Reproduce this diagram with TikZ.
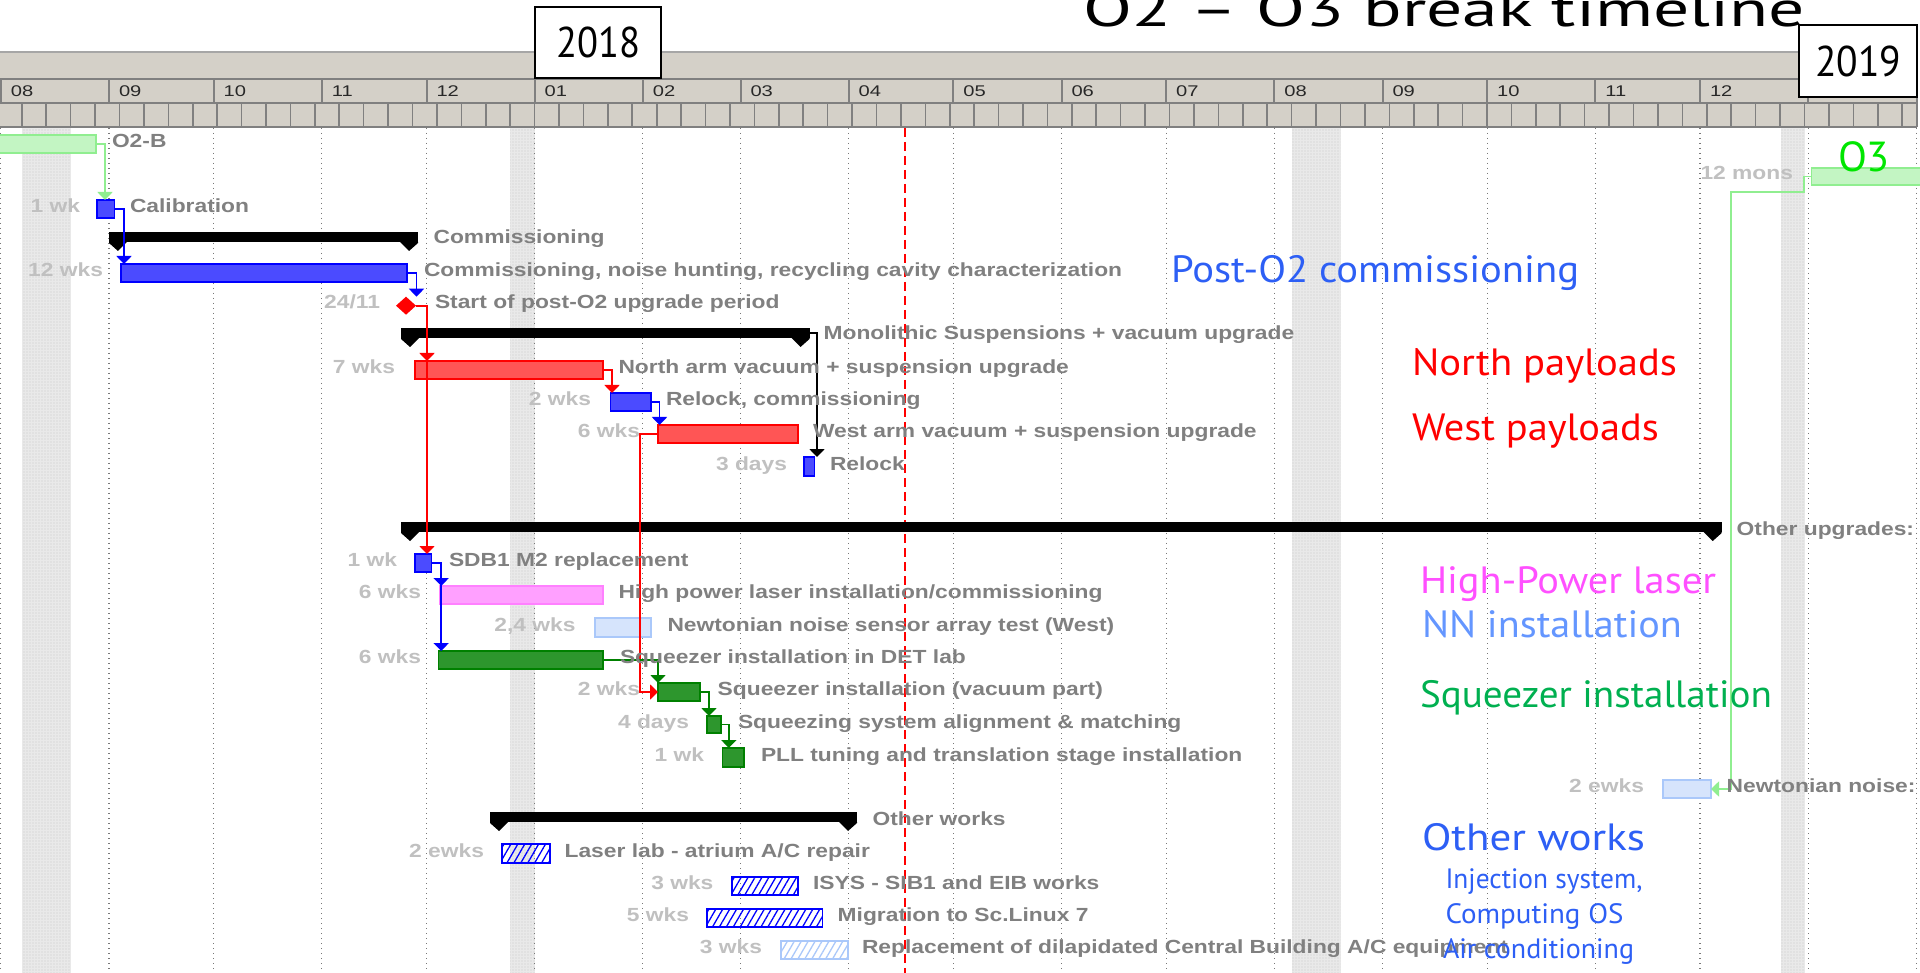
\documentclass[tikz,border=0pt]{standalone}
\usepackage{fontspec}
\usepackage{graphicx}
\usetikzlibrary{arrows.meta,shapes.geometric,patterns.meta,calc}
\newfontfamily\ganttfont{Liberation Sans}
\newfontfamily\gillfont{PT Sans}
\definecolor{hdrfill}{RGB}{212,208,200}
\definecolor{hdrline}{RGB}{128,128,128}
\definecolor{lblgray}{RGB}{128,128,128}
\definecolor{durgray}{RGB}{192,192,192}
\definecolor{gridgray}{RGB}{120,120,120}
\definecolor{stripegray}{RGB}{233,233,233}
\definecolor{stripedot}{RGB}{200,200,200}
\definecolor{mtext}{RGB}{40,40,40}
\definecolor{lgreen}{RGB}{144,238,144}
\definecolor{lgreenfill}{RGB}{195,245,195}
\definecolor{dgreen}{RGB}{0,128,0}
\definecolor{dgreenfill}{RGB}{45,150,45}
\definecolor{bluefill}{RGB}{75,75,255}
\definecolor{redfill}{RGB}{255,85,85}
\definecolor{pinkline}{RGB}{255,128,255}
\definecolor{pinkfill}{RGB}{255,160,255}
\definecolor{nnline}{RGB}{170,200,250}
\definecolor{nnfill}{RGB}{214,228,252}
\definecolor{ovblue}{RGB}{45,95,245}
\definecolor{ovlblue}{RGB}{100,150,255}
\definecolor{ovpink}{RGB}{255,80,255}
\definecolor{ovgreen}{RGB}{0,176,80}
\definecolor{ovothree}{RGB}{0,230,0}
\newcommand\gl[1]{\scalebox{1.2}[1]{#1}}
\newcommand\fitw[2]{\resizebox{#1}{\height}{#2}}
\newcommand\ganttbar[6]{\node[#2, anchor=north west, inner sep=0pt, outer sep=0pt, minimum width={(#4-#3)*1pt}, minimum height={(#6-#5)*1pt}] (#1) at (#3,#5) {};}
\newcommand\summbar[4]{%
  \node[fill=black, anchor=north west, inner sep=0pt, outer sep=0pt, minimum width={(#3-#2)*1pt}, minimum height=10pt] (#1) at (#2,#4) {};
  \fill (#1.south west) -- ++(0,1) -- ++(9,8) -- ++(9,-9) -- cycle;
  \fill (#1.south east) -- ++(0,1) -- ++(-9,8) -- ++(-9,-9) -- cycle;}
\tikzset{
  hline/.style={draw=hdrline, line width=2pt},
  gridline/.style={draw=gridgray, line width=1.2pt, dash pattern=on 1.2pt off 3.8pt},
  stripe/.style={fill=stripegray},
  stripedots/.style={pattern={Dots[radius=0.7pt,distance=3pt]}, pattern color=stripedot},
  lbl/.style={anchor=base west, inner sep=0pt, outer sep=0pt, text=lblgray, font={\ganttfont\fontsize{19}{22}\selectfont\bfseries}},
  dur/.style={lbl, anchor=base east, text=durgray},
  mlbl/.style={anchor=base west, inner sep=0pt, outer sep=0pt, text=mtext, font={\ganttfont\fontsize{15.5}{18}\selectfont}},
  ov/.style={anchor=base west, inner sep=0pt, outer sep=0pt, font={\gillfont\fontsize{38}{42}\selectfont}},
  ovs/.style={ov, font={\gillfont\fontsize{28}{32}\selectfont}},
  bbar/.style={draw=blue, line width=1.5pt, fill=bluefill},
  rbar/.style={draw=red, line width=1.5pt, fill=redfill},
  pbar/.style={draw=pinkline, line width=1.5pt, fill=pinkfill},
  nbar/.style={draw=nnline, line width=1.5pt, fill=nnfill},
  gbar/.style={draw=dgreen, line width=1.5pt, fill=dgreenfill},
  lgbar/.style={draw=lgreen, line width=1.5pt, fill=lgreenfill},
  hbar/.style={draw=blue, line width=1.5pt, pattern={Lines[angle=60,distance=6pt,line width=1.3pt]}, pattern color=blue},
  lhbar/.style={draw=nnline, line width=1.5pt, pattern={Lines[angle=60,distance=6pt,line width=1.3pt]}, pattern color=nnline},
  link/.style={line width=1.8pt, -{Triangle[width=15pt,length=8pt]}},
}
\begin{document}
\begin{tikzpicture}[x=1pt,y=-1pt]
\useasboundingbox (0,0) rectangle (1920,973);
\clip (0,0) rectangle (1920,973);
\fill[white] (0,0) rectangle (1920,973);
% shaded non-working weeks
\foreach \sa/\sb in {21.8/70.6,510.1/534.7,1291.8/1340.6,1780.6/1805}{
  \fill[stripe] (\sa,128) rectangle (\sb,973);
  \fill[stripedots] (\sa,128) rectangle (\sb,973);
}
% month grid lines
\foreach \mx in {0.8,109,213.7,321.8,426.5,534.7,642.8,740.5,848.7,953.3,1061.5,1166.2,1274.3,1382.5,1487.2,1595.3,1700,1808.1,1916.3}
  \draw[gridline] (\mx,128) -- (\mx,973);
% today line
\draw[red, line width=1.6pt, dash pattern=on 9pt off 5pt] (905,128) -- (905,973);
% header
\fill[hdrfill] (0,52) rectangle (1917,127);
\draw[hline, draw=hdrline!70] (0,52) -- (1917,52);
\draw[hline] (0,79) -- (1917,79);
\draw[hline] (0,103) -- (1917,103);
\draw[hline] (0,127) -- (1917,127);
\draw[hline] (1917,52) -- (1917,127);
\foreach \mx in {0.8,109,213.7,321.8,426.5,534.7,642.8,740.5,848.7,953.3,1061.5,1166.2,1274.3,1382.5,1487.2,1595.3,1700,1808.1}
  \draw[hline] (\mx,79) -- (\mx,103);
\foreach \k in {0,...,77}
  \draw[hline, line width=1.6pt] ({21.78+24.42*\k},103) -- ++(0,24);
\foreach \mx/\ml [count=\i] in {0.8/08,109/09,213.7/10,321.8/11,426.5/12,534.7/01,642.8/02,740.5/03,848.7/04,953.3/05,1061.5/06,1166.2/07,1274.3/08,1382.5/09,1487.2/10,1595.3/11,1700/12,1808.1/01}
  \node[mlbl] (m\i) at (\mx+10,97) {\scalebox{1.3}[1]{\ml}};
% year boxes and title
\node[draw=black, line width=2pt, fill=white, minimum width=126pt, minimum height=71pt, inner sep=0pt, font={\gillfont\fontsize{43}{46}\selectfont}] (ya) at (598,42.4) {\fitw{84pt}{2018}};
\node[draw=black, line width=2pt, fill=white, minimum width=118pt, minimum height=72pt, inner sep=0pt, font={\gillfont\fontsize{43}{46}\selectfont}] (yb) at (1858,61) {\fitw{86pt}{2019}};
\node[anchor=base west, inner sep=0pt, font={\gillfont\fontsize{50}{54}\selectfont}] (title) at (1083,27) {\fitw{722pt}{O2 – O3 break timeline}};
% bars
\ganttbar{otwob}{lgbar}{-5}{96}{135}{153}
\ganttbar{cal}{bbar}{96.8}{114.5}{200}{218}
\summbar{comm}{109}{418}{232}
\ganttbar{cn}{bbar}{121}{407}{264}{282}
\node[diamond, aspect=1.15, fill=red, inner sep=0pt, outer sep=0pt, minimum width=20pt, minimum height=18pt] (st) at (406,305.7) {};
\summbar{mono}{401}{809.5}{328}
\ganttbar{na}{rbar}{415}{603}{361}{379}
\ganttbar{rc}{bbar}{610.5}{651}{393}{411}
\ganttbar{wa}{rbar}{658}{798}{425}{443}
\ganttbar{rl}{bbar}{804}{814.5}{457}{476}
\summbar{othup}{401}{1721.7}{522}
\ganttbar{sdb}{bbar}{415}{431.7}{554}{572}
\ganttbar{hp}{pbar}{439.7}{603}{586}{604}
\ganttbar{nns}{nbar}{595}{651}{618}{637}
\ganttbar{sd}{gbar}{438.5}{603}{651}{669}
\ganttbar{sv}{gbar}{658}{700}{683}{701}
\ganttbar{sa}{gbar}{707}{720.8}{716}{733}
\ganttbar{pll}{gbar}{722.6}{744}{748}{767}
\ganttbar{nnr}{nbar}{1663}{1711}{780}{798}
\summbar{othw}{490}{857}{812}
\ganttbar{ll}{hbar}{502}{550}{844}{863}
\ganttbar{is}{hbar}{731.8}{798}{877}{895}
\ganttbar{mig}{hbar}{707}{822.4}{909}{927}
\ganttbar{rep}{lhbar}{780.8}{848}{941}{959}
\ganttbar{othree}{lgbar}{1811.7}{1930}{168}{185}
% links
\draw[link, lgreen] (otwob.east) -- ++(9,0) coordinate (k1) -- (k1 |- cal.north);
\draw[link, blue] (cal.east) -- ++(9.5,0) coordinate (k2) -- (k2 |- cn.north);
\draw[link, blue] (cn.east) -- ++(9.5,0) coordinate (k3) -- (k3 |- st.north);
\draw[link, red] (st.east) -- ++(11,0) coordinate (k4) -- (k4 |- na.north);
\draw[link, red] (k4) -- (k4 |- sdb.north);
\draw[link, red] (na.east) -- ++(9,0) coordinate (k5) -- (k5 |- rc.north);
\draw[link, blue] (rc.east) -- ++(8.5,0) coordinate (k6) -- (k6 |- wa.north);
\draw[link, black] (mono.east) -- ++(7.5,0) coordinate (k7) -- (k7 |- rl.north);
\draw[link, red] (wa.west) -- ++(-18,0) coordinate (k8) -- (k8 |- sv.west) -- (sv.west);
\draw[link, blue] (sdb.east) -- ++(9.5,0) coordinate (k9) -- (k9 |- hp.north);
\draw[link, blue] (k9) -- (k9 |- sd.north);
\draw[link, dgreen] (sd.east) -- ++(55,0) coordinate (k10) -- (k10 |- sv.north);
\draw[link, dgreen] (sv.east) -- ++(9,0) coordinate (k11) -- (k11 |- sa.north);
\draw[link, dgreen] (sa.east) -- ++(8,0) coordinate (k12) -- (k12 |- pll.north);
\draw[link, lgreen] (othree.west) -- ++(-7.7,0) -- ++(0,15.2) -- ++(-73.3,0) coordinate (k13) -- (k13 |- nnr.east) -- (nnr.east);
% labels
\node[lbl] (lotwob) at (112,147.5) {\gl{O2-B}};
\node[lbl] (lcal) at (130,212.5) {\gl{Calibration}};
\node[dur] (dcal) at (80,212.5) {\gl{1 wk}};
\node[lbl] (lcomm) at (433.6,244) {\gl{Commissioning}};
\node[lbl] (lcn) at (424,276.5) {\gl{Commissioning, noise hunting, recycling cavity characterization}};
\node[dur] (dcn) at (103,276.5) {\gl{12 wks}};
\node[lbl] (lst) at (435,308.5) {\gl{Start of post-O2 upgrade period}};
\node[dur] (dst) at (380,308.5) {\gl{24/11}};
\node[lbl] (lmono) at (823.6,340) {\gl{Monolithic Suspensions + vacuum upgrade}};
\node[lbl] (lna) at (618.5,373.5) {\gl{North arm vacuum + suspension upgrade}};
\node[dur] (dna) at (395,373.5) {\gl{7 wks}};
\node[lbl] (lrc) at (666,405.5) {\gl{Relock, commissioning}};
\node[dur] (drc) at (591,405.5) {\gl{2 wks}};
\node[lbl] (lwa) at (813,437.5) {\gl{West arm vacuum + suspension upgrade}};
\node[dur] (dwa) at (640,437.5) {\gl{6 wks}};
\node[lbl] (lrl) at (830,470) {\gl{Relock}};
\node[dur] (drl) at (787,470) {\gl{3 days}};
\node[lbl] (lou) at (1736.7,535) {\gl{Other upgrades:}};
\node[lbl] (lsdb) at (449,566.5) {\gl{SDB1 M2 replacement}};
\node[dur] (dsdb) at (397,566.5) {\gl{1 wk}};
\node[lbl] (lhp) at (618.5,598.5) {\gl{High power laser installation/commissioning}};
\node[dur] (dhp) at (421,598.5) {\gl{6 wks}};
\node[lbl] (lnns) at (667.5,631) {\gl{Newtonian noise sensor array test (West)}};
\node[dur] (dnns) at (575.6,631) {\gl{2,4 wks}};
\node[lbl] (lsd) at (620,663.5) {\gl{Squeezer installation in DET lab}};
\node[dur] (dsd) at (421,663.5) {\gl{6 wks}};
\node[lbl] (lsv) at (717.7,695.5) {\gl{Squeezer installation (vacuum part)}};
\node[dur] (dsv) at (640,695.5) {\gl{2 wks}};
\node[lbl] (lsa) at (738,728) {\gl{Squeezing system alignment \& matching}};
\node[dur] (dsa) at (689,728) {\gl{4 days}};
\node[lbl] (lpll) at (761,761) {\gl{PLL tuning and translation stage installation}};
\node[dur] (dpll) at (704,761) {\gl{1 wk}};
\node[lbl] (lnnr) at (1726.7,792.5) {\gl{Newtonian noise:}};
\node[dur] (dnnr) at (1644,792.5) {\gl{2 ewks}};
\node[lbl] (low) at (872.6,825) {\gl{Other works}};
\node[lbl] (lll) at (564.6,857) {\gl{Laser lab - atrium A/C repair}};
\node[dur] (dll) at (484,857) {\gl{2 ewks}};
\node[lbl] (lis) at (813,889.5) {\gl{ISYS - SIB1 and EIB works}};
\node[dur] (dis) at (713.4,889.5) {\gl{3 wks}};
\node[lbl] (lmig) at (837.7,921.5) {\gl{Migration to Sc.Linux 7}};
\node[dur] (dmig) at (689,921.5) {\gl{5 wks}};
\node[lbl] (lrep) at (862,953.5) {\gl{Replacement of dilapidated Central Building A/C equipment}};
\node[dur] (drep) at (762,953.5) {\gl{3 wks}};
\node[dur] (dothree) at (1793,180) {\gl{12 mons}};
% overlay annotations
\node[ov, text=ovblue] (ovpc) at (1171,282.7) {\fitw{408pt}{Post-O2 commissioning}};
\node[ov, text=red] (ovnp) at (1412,376) {\fitw{265pt}{North payloads}};
\node[ov, text=red] (ovwp) at (1412,440) {\fitw{247pt}{West payloads}};
\node[ov, text=ovpink] (ovhp) at (1420,593) {\fitw{296pt}{High-Power laser}};
\node[ov, text=ovlblue] (ovnn) at (1422,637) {\fitw{260pt}{NN installation}};
\node[ov, text=ovgreen] (ovsq) at (1420,707) {\fitw{352pt}{Squeezer installation}};
\node[ov, text=ovblue] (ovow) at (1422,850) {\fitw{223pt}{Other works}};
\node[ovs, text=ovblue] (ovinj) at (1445.5,888) {\fitw{197pt}{Injection system,}};
\node[ovs, text=ovblue] (ovcomp) at (1445.5,923) {\fitw{178pt}{Computing OS}};
\node[ovs, text=ovblue] (ovair) at (1443,958) {\fitw{191pt}{Air conditioning}};
\node[ov, text=ovothree, font={\gillfont\fontsize{42}{46}\selectfont}] (ovothree) at (1838,172) {\fitw{52pt}{O3}};
\end{tikzpicture}
\end{document}
